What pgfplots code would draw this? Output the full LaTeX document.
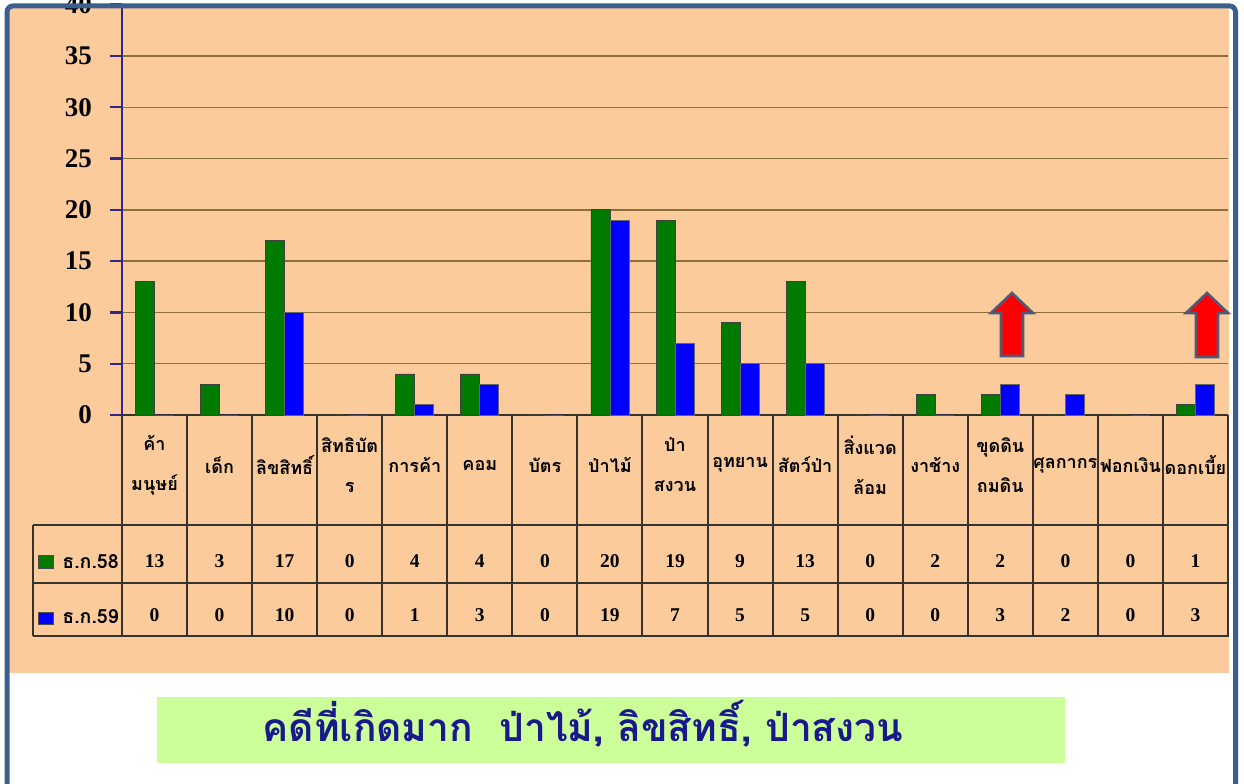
\documentclass[border=0pt]{standalone}
\usepackage{fontspec}
\setmainfont{Liberation Serif}
\newfontfamily\thaifont[Script=Thai]{Loma}
\usepackage{pgfplots}
\usepackage{pgfplotstable}
\pgfplotsset{compat=1.18}
\definecolor{peach}{RGB}{251,203,155}
\definecolor{framec}{RGB}{59,94,140}
\definecolor{gridc}{RGB}{140,112,60}
\definecolor{yax}{RGB}{48,38,140}
\definecolor{tabc}{RGB}{55,50,45}
\definecolor{gbar}{RGB}{0,122,0}
\definecolor{bbar}{RGB}{0,0,255}
\definecolor{capbg}{RGB}{204,255,153}
\definecolor{captx}{RGB}{25,25,140}
\definecolor{arrowedge}{RGB}{80,90,120}

\pgfplotstableread{
x a b
0.5 13 0
1.5 3 0
2.5 17 10
3.5 0 0
4.5 4 1
5.5 4 3
6.5 0 0
7.5 20 19
8.5 19 7
9.5 9 5
10.5 13 5
11.5 0 0
12.5 2 0
13.5 2 3
14.5 0 2
15.5 0 0
16.5 1 3
}\data

\begin{document}
\begin{tikzpicture}[x=0.5pt,y=0.5pt]
\useasboundingbox (0,0) rectangle (1244,783);
\clip (0,0) rectangle (1244,783);
\fill[white] (0,0) rectangle (1244,783);
\fill[peach] (9,110) rectangle (1229,777);
\begin{axis}[
  at={(61pt,184pt)}, anchor=south west,
  scale only axis, width=553pt, height=205.2pt,
  xmin=0, xmax=17, ymin=0, ymax=40,
  ytick={0,5,...,40}, xtick=\empty,
  axis x line*=bottom, axis y line*=left,
  x axis line style={tabc, line width=1pt, -},
  y axis line style={yax, line width=1pt, -},
  ymajorgrids, grid style={gridc, line width=0.7pt},
  tick align=outside, major tick length=6pt,
  tick style={yax, line width=1.2pt},
  /pgf/number format/assume math mode=true,
  yticklabel style={font=\fontsize{13.5}{14}\selectfont\bfseries, text=black, xshift=-5.5pt},
  clip=false,
]
\addplot[ybar, bar width=9.5pt, bar shift=-4.75pt, fill=gbar, draw=black!75, line width=0.4pt] table[x=x,y=a]{\data};
\addplot[ybar, bar width=9.5pt, bar shift=4.75pt, fill=bbar, draw=black!60, line width=0.4pt] table[x=x,y=b]{\data};
\end{axis}
% arrows
\filldraw[fill=red, draw=arrowedge, line width=1.3pt, line join=miter]
  (1012,490) -- (1033,470) -- (1023,470) -- (1023,427) -- (1001,427) -- (1001,470) -- (991,470) -- cycle;
\filldraw[fill=red, draw=arrowedge, line width=1.3pt, line join=miter]
  (1207,490) -- (1228,470) -- (1218,470) -- (1218,426) -- (1196,426) -- (1196,470) -- (1186,470) -- cycle;
% table lines
\begin{scope}[draw=tabc, line width=1pt]
\foreach \y in {258,200,147} \draw (33,\y) -- (1229,\y);
\draw (33,258) -- (33,147);
\foreach \k in {0,...,17} {
  \pgfmathsetmacro\xx{122+65.06*\k}
  \draw (\xx,368) -- (\xx,147);
}
\end{scope}
% header labels
\foreach \n [count=\i from 0] in {{ค้า\\มนุษย์},{เด็ก},{ลิขสิทธิ์},{สิทธิบัต\\ร},{การค้า},{คอม},{บัตร},{ป่าไม้},{ป่า\\สงวน},{อุทยาน},{สัตว์ป่า},{สิ่งแวด\\ล้อม},{งาช้าง},{ขุดดิน\\ถมดิน},{ศุลกากร},{ฟอกเงิน},{ดอกเบี้ย}} {
  \pgfmathsetmacro\cx{122+65.06*\i+32.53}
  \node[align=center, font=\thaifont\bfseries\fontsize{9}{20}\selectfont, inner sep=0pt] at (\cx,318) {\n};
}
% table values
\foreach \i in {0,...,16} {
  \pgfmathsetmacro\cx{122+65.06*\i+32.53}
  \pgfplotstablegetelem{\i}{a}\of\data
  \node[font=\fontsize{9.75}{10}\selectfont\bfseries] at (\cx,222) {\pgfplotsretval};
  \pgfplotstablegetelem{\i}{b}\of\data
  \node[font=\fontsize{9.75}{10}\selectfont\bfseries] at (\cx,168) {\pgfplotsretval};
}
% legend
\filldraw[fill=gbar, draw=black!70, line width=0.4pt] (38,215) rectangle (53,228);
\node[anchor=west, font=\thaifont\bfseries\fontsize{9.75}{10}\selectfont, inner sep=0pt] at (62,221) {ธ.ก.58};
\filldraw[fill=bbar, draw=black!70, line width=0.4pt] (38,159) rectangle (53,171);
\node[anchor=west, font=\thaifont\bfseries\fontsize{9.75}{10}\selectfont, inner sep=0pt] at (62,166) {ธ.ก.59};
% caption
\fill[capbg] (157,20) rectangle (1065,86);
\node[text=captx, font=\thaifont\bfseries\fontsize{19.5}{24}\selectfont] at (583,59) {คดีที่เกิดมาก\ \ ป่าไม้, ลิขสิทธิ์, ป่าสงวน};
% frame
\draw[framec, line width=2.5pt, rounded corners=3pt] (7,-20) -- (7,777) -- (1235.5,777) -- (1235.5,-20);
\end{tikzpicture}
\end{document}
